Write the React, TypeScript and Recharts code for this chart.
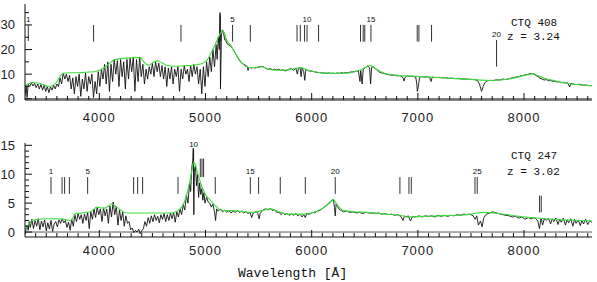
import React from "react";
import { LineChart, Line, XAxis, YAxis, ReferenceLine } from "recharts";

const SANS = "'Liberation Sans', Arial, sans-serif";
const MONO = "'Liberation Mono', 'DejaVu Sans Mono', monospace";

const waveDomain = [3300, 8640];
const waveTicks = [
  3400, 3500, 3600, 3700, 3800, 3900, 4000, 4100, 4200, 4300, 4400, 4500, 4600, 4700, 4800, 4900,
  5000, 5100, 5200, 5300, 5400, 5500, 5600, 5700, 5800, 5900, 6000, 6100, 6200, 6300, 6400, 6500,
  6600, 6700, 6800, 6900, 7000, 7100, 7200, 7300, 7400, 7500, 7600, 7700, 7800, 7900, 8000, 8100,
  8200, 8300, 8400, 8500, 8600,
];
const topFluxTicks = [0, 5, 10, 15, 20, 25, 30, 35];
const botFluxTicks = [0, 1, 2, 3, 4, 5, 6, 7, 8, 9, 10, 11, 12, 13, 14, 15];

// CTQ 408: observed spectrum [wavelength, flux]
const ctq408Spec: [number, number][] = [
  [3300, 1], [3310, 5.5], [3320, 0.5], [3330, 6], [3345, 5], [3360, 6.5], [3375, 5.2], [3390, 6.3],
  [3405, 4.5], [3420, 6], [3435, 4], [3450, 5.8], [3465, 3.5], [3480, 5.5], [3495, 3], [3510, 5],
  [3525, 2.5], [3540, 4.8], [3555, 3.5], [3570, 5.5], [3585, 4], [3600, 6], [3615, 5], [3630, 8.5],
  [3645, 6], [3660, 10.5], [3675, 8], [3690, 10], [3705, 7], [3720, 9.5], [3735, 4], [3750, 8.5],
  [3765, 2], [3780, 9], [3795, 5], [3810, 10], [3825, 1], [3840, 8], [3855, 4], [3870, 10.5],
  [3885, 3], [3900, 9], [3915, 6], [3930, 10], [3945, 0.5], [3960, 7], [3975, 2], [3990, 11],
  [4005, 5], [4020, 12], [4035, 8], [4050, 14], [4065, 6], [4080, 15], [4095, 3], [4110, 14],
  [4125, 7], [4140, 16], [4155, 10], [4170, 15.5], [4185, 5], [4200, 16], [4215, 9], [4230, 15],
  [4245, 4], [4260, 16], [4275, 8], [4290, 16.5], [4305, 11], [4320, 17], [4335, 3], [4350, 16],
  [4365, 7], [4380, 17], [4395, 9], [4410, 14], [4425, 6], [4440, 12], [4455, 8], [4470, 13],
  [4485, 10], [4500, 14.5], [4515, 9], [4530, 15], [4545, 11], [4560, 14.5], [4575, 9], [4590, 13.5],
  [4605, 8], [4620, 13], [4635, 5], [4650, 12.5], [4665, 8], [4680, 13], [4695, 6], [4710, 12],
  [4725, 9], [4740, 13], [4755, 3], [4770, 12], [4785, 8], [4800, 13.5], [4815, 10], [4830, 12],
  [4845, 7], [4860, 13.5], [4875, 9], [4890, 14], [4905, 10], [4920, 13], [4935, 6], [4950, 12],
  [4965, 2], [4980, 13], [4995, 5], [5010, 15], [5025, 9], [5040, 17], [5055, 11], [5070, 20],
  [5085, 13], [5100, 22], [5110, 16], [5120, 25], [5130, 20], [5137, 35], [5141, 4], [5150, 26],
  [5160, 28], [5170, 27], [5180, 24], [5190, 24], [5200, 22.5], [5215, 22], [5230, 21.5], [5245, 21],
  [5260, 20], [5280, 18.5], [5300, 17], [5320, 15.5], [5340, 14.5], [5360, 14], [5380, 13.5], [5395, 13],
  [5400, 11.5], [5410, 12.8], [5430, 12.5], [5450, 12.7], [5470, 12.5], [5490, 12.8], [5510, 13], [5530, 13.2],
  [5550, 12.8], [5570, 12.3], [5590, 12], [5610, 12.2], [5630, 11.8], [5650, 12], [5670, 11.7], [5690, 12],
  [5710, 11.5], [5730, 11.8], [5750, 11.3], [5770, 11.6], [5790, 12], [5810, 12.2], [5830, 11.5], [5850, 12.5],
  [5865, 10], [5875, 12.3], [5890, 12.8], [5900, 9], [5910, 12.5], [5925, 11], [5935, 7.5], [5945, 12],
  [5960, 11.5], [5980, 11.3], [6000, 11.2], [6020, 11], [6040, 10.8], [6060, 10.6], [6080, 10.7], [6100, 10.4],
  [6120, 10.5], [6140, 10.3], [6160, 10.5], [6180, 10.3], [6200, 10.4], [6220, 10.2], [6240, 10.5], [6260, 10.3],
  [6280, 10.6], [6300, 10.4], [6320, 10.7], [6340, 10.5], [6360, 10.8], [6380, 10.9], [6400, 11], [6420, 11.2],
  [6440, 11.3], [6455, 7], [6462, 11.5], [6475, 6], [6485, 11.8], [6500, 12.5], [6515, 13], [6530, 13.4],
  [6545, 12.5], [6555, 6], [6565, 13], [6580, 13], [6600, 12.2], [6620, 11.5], [6640, 10.8], [6660, 10.5],
  [6680, 10.3], [6700, 10], [6720, 9.8], [6740, 9.7], [6760, 9.5], [6780, 9.6], [6800, 9.3], [6820, 9.4],
  [6840, 9.2], [6860, 8.5], [6870, 7.2], [6880, 8.8], [6900, 9.3], [6920, 9.1], [6940, 9.2], [6960, 9],
  [6980, 8.8], [6990, 6], [6995, 3], [7005, 5], [7015, 8.5], [7030, 9], [7050, 8.9], [7070, 8.8],
  [7090, 9], [7110, 8.7], [7125, 7], [7135, 8.8], [7150, 8.7], [7170, 8.6], [7200, 8.7], [7230, 8.5],
  [7260, 8.6], [7290, 8.3], [7320, 8.4], [7350, 8.2], [7380, 8.3], [7410, 8], [7440, 8.1], [7470, 7.9],
  [7500, 7.9], [7530, 7.8], [7560, 7.5], [7580, 6], [7600, 3], [7615, 5], [7630, 6.5], [7650, 7.2],
  [7680, 7.5], [7710, 7.4], [7740, 7.7], [7770, 7.6], [7800, 8], [7830, 7.8], [7860, 8.2], [7890, 8.5],
  [7920, 8.8], [7950, 9], [7980, 9.4], [8010, 9.7], [8040, 10], [8070, 10.3], [8090, 10.1], [8110, 9.5],
  [8130, 9], [8150, 8.3], [8170, 8], [8190, 7.6], [8210, 7.8], [8230, 7.3], [8250, 7.4], [8270, 7],
  [8290, 7.2], [8310, 6.8], [8330, 7], [8350, 6.5], [8370, 6.7], [8390, 6.3], [8410, 6.5], [8430, 4.8],
  [8440, 6.2], [8460, 6], [8490, 5.8], [8520, 5.9], [8550, 5.5], [8580, 5.6], [8610, 5.3], [8640, 5.4],
];

// CTQ 408: fitted continuum + emission (green)
const ctq408Fit: [number, number][] = [
  [3300, 5], [3330, 6], [3370, 6.6], [3420, 6.4], [3470, 5.8], [3520, 5], [3560, 5.4], [3600, 6.8],
  [3630, 9.2], [3664, 10.4], [3720, 10.6], [3800, 10.6], [3880, 10.8], [3950, 11], [4000, 11.6], [4050, 12.8],
  [4100, 14.5], [4140, 15.8], [4200, 16.3], [4280, 16.6], [4340, 16.8], [4390, 16.6], [4420, 15], [4465, 13.6],
  [4510, 14.8], [4545, 15.4], [4590, 14.6], [4640, 13.5], [4700, 13.2], [4800, 13.4], [4880, 13.6], [4960, 14.2],
  [5010, 15.5], [5060, 19.2], [5100, 23], [5133, 26], [5155, 27.5], [5175, 27], [5200, 23.8], [5234, 21.9],
  [5280, 18.5], [5320, 15.8], [5359, 13.8], [5406, 12.7], [5460, 12.7], [5532, 13], [5580, 12.3], [5641, 11.7],
  [5700, 11.6], [5767, 11.7], [5830, 12.2], [5893, 12.7], [5950, 11.8], [6018, 11.1], [6080, 10.6], [6144, 10.4],
  [6250, 10.3], [6332, 10.4], [6400, 11], [6458, 11.7], [6510, 12.8], [6552, 13.5], [6600, 12.3], [6650, 11],
  [6709, 10.1], [6760, 9.7], [6834, 9.4], [6950, 9.2], [7050, 9], [7120, 8.8], [7250, 8.5], [7350, 8.2],
  [7434, 8], [7550, 7.7], [7685, 7.4], [7780, 7.6], [7873, 8.2], [7950, 8.9], [8020, 9.7], [8080, 10.1],
  [8140, 9.2], [8200, 8.2], [8250, 7.7], [8320, 7], [8376, 6.4], [8460, 5.9], [8550, 5.6], [8640, 5.3],
];

// CTQ 408: marked lines (wavelength, tag, flux extent)
const ctq408LineWl = [3331, 3946, 4769, 5139, 5255, 5422, 5862, 5893, 5933, 5956, 6065, 6460, 6485, 6500, 6558, 6994, 7010, 7129, 7741];
const ctq408LineTag = ["1", "", "", "", "5", "", "", "", "", "10", "", "", "", "", "15", "", "", "", "20"];
const ctq408LineSpan: [number, number][] = [
  [23.5, 30], [23.2, 30], [23.2, 30], [23.2, 34], [23.2, 30], [23.2, 30], [23.2, 30], [23.2, 30],
  [23.2, 30], [23.2, 30], [23.2, 30], [23.2, 30], [23.2, 30], [23.2, 30], [23.2, 30], [23.2, 30],
  [23.2, 30], [23.2, 30], [13.1, 23.9],
];

// CTQ 247: observed spectrum
const ctq247Spec: [number, number][] = [
  [3300, -0.5], [3310, 0.5], [3320, 1.2], [3330, 0.3], [3340, 1.8], [3350, 0.8], [3365, 2.2], [3380, 0.6],
  [3395, 2], [3410, 1], [3425, 2.3], [3440, 0.4], [3455, 1.9], [3470, 0.9], [3485, 2.1], [3500, 0.2],
  [3515, 1.6], [3530, 0.5], [3545, 2], [3560, 0.1], [3575, 1.4], [3590, 1.8], [3605, 0.9], [3620, 2.1],
  [3635, 1.5], [3650, 2.3], [3665, 1.6], [3680, 2], [3695, 0.8], [3710, 1.7], [3725, 0.3], [3740, 2.2],
  [3755, 1], [3770, 3], [3785, 1.8], [3800, 3.2], [3815, 2.2], [3830, 3], [3845, 1.5], [3860, 3.1],
  [3875, 2], [3890, 3.4], [3905, 0.6], [3920, 3.5], [3935, 2.2], [3950, 4], [3965, 2.5], [3980, 4.3],
  [3995, 3], [4010, 4], [4025, 1.8], [4040, 4.2], [4055, 2.8], [4070, 4], [4085, 1.5], [4100, 4.5],
  [4115, 2.6], [4130, 5.2], [4145, 3], [4160, 4.4], [4175, 1.2], [4190, 3.8], [4205, 2], [4220, 3.5],
  [4235, 1], [4250, 2.8], [4265, 1.5], [4280, 1.8], [4295, 0.4], [4310, 0.7], [4325, -0.1], [4340, 0.3],
  [4355, 0], [4370, 0.5], [4385, -0.3], [4400, 0.2], [4415, 0.6], [4430, 1.8], [4445, 1], [4460, 2.5],
  [4475, 1.5], [4490, 2.8], [4505, 1.8], [4520, 3], [4535, 2], [4550, 2.7], [4565, 1.6], [4580, 3],
  [4595, 2.2], [4610, 3.2], [4625, 1.8], [4640, 3], [4655, 2], [4670, 3.3], [4685, 2.3], [4700, 3.4],
  [4715, 1.7], [4730, 3.5], [4745, 2.6], [4760, 4], [4775, 3], [4790, 4.8], [4805, 3.8], [4820, 6.5],
  [4835, 5], [4850, 8.5], [4860, 7], [4870, 11], [4880, 12.3], [4885, 14.5], [4890, 3], [4895, 10.5],
  [4905, 11.5], [4915, 8], [4925, 10], [4935, 6], [4945, 8.5], [4955, 6.5], [4965, 7.5], [4975, 5.5],
  [4985, 6.8], [4995, 5], [5010, 6], [5025, 5.2], [5040, 5], [5055, 4.3], [5070, 4.8], [5085, 3.5],
  [5095, 2], [5105, 4], [5120, 3.6], [5140, 4], [5160, 3.5], [5180, 3.8], [5200, 3.4], [5220, 3.7],
  [5240, 3.3], [5260, 3.6], [5280, 3.4], [5300, 3.7], [5320, 3.4], [5340, 3.6], [5360, 3.3], [5380, 3.5],
  [5400, 3.2], [5420, 3.4], [5435, 2.5], [5450, 3.3], [5470, 3.5], [5490, 3.4], [5505, 2.3], [5515, 3.2],
  [5530, 3.6], [5550, 3.9], [5570, 4], [5590, 3.8], [5610, 4.1], [5630, 3.7], [5650, 3.9], [5670, 3.4],
  [5690, 3.5], [5710, 3], [5730, 3.3], [5750, 3], [5770, 3.2], [5790, 2.9], [5810, 3.1], [5830, 2.9],
  [5850, 3.2], [5870, 2.8], [5890, 3.1], [5910, 2.6], [5925, 3], [5940, 2.5], [5955, 3.3], [5970, 3],
  [5990, 3.2], [6010, 3.4], [6030, 3.3], [6050, 3.6], [6070, 3.7], [6090, 3.9], [6110, 4.2], [6130, 4.5],
  [6150, 4.8], [6170, 5.2], [6190, 5.5], [6205, 5.6], [6215, 4.2], [6222, 2.8], [6230, 4.8], [6245, 4.4],
  [6260, 3.9], [6280, 3.7], [6300, 3.5], [6330, 3.6], [6360, 3.4], [6390, 3.5], [6420, 3.3], [6450, 3.4],
  [6480, 3.2], [6510, 3.4], [6540, 3.3], [6570, 3.3], [6600, 3.2], [6630, 3.3], [6660, 3.1], [6690, 3.2],
  [6720, 3], [6750, 3.1], [6780, 2.9], [6810, 3], [6840, 2.7], [6860, 2], [6875, 2.8], [6890, 2.6],
  [6910, 2.8], [6930, 1.9], [6950, 2.7], [6980, 2.6], [7010, 2.8], [7040, 2.6], [7070, 2.8], [7100, 2.7],
  [7130, 2.8], [7160, 2.6], [7190, 2.9], [7220, 2.7], [7250, 2.9], [7280, 2.7], [7310, 2.9], [7340, 2.8],
  [7370, 3], [7400, 2.9], [7430, 3.1], [7460, 3], [7490, 3.1], [7520, 2.8], [7540, 2.2], [7555, 2.8],
  [7570, 1.2], [7590, 1.9], [7605, 0.9], [7620, 2.4], [7640, 3], [7660, 3.2], [7680, 3.3], [7700, 3.5],
  [7720, 3.4], [7740, 3.3], [7760, 3.2], [7780, 3.1], [7800, 3], [7830, 2.9], [7860, 2.8], [7890, 2.6],
  [7920, 2.7], [7950, 2.4], [7980, 2.6], [8010, 2.2], [8040, 2.5], [8070, 2.3], [8100, 2.5], [8130, 1.9],
  [8145, 0.6], [8160, 2.4], [8175, 1.2], [8190, 2.3], [8210, 2], [8230, 2.4], [8250, 1.4], [8265, 2.3],
  [8280, 1.8], [8300, 2.4], [8320, 1.3], [8335, 2.2], [8350, 1.7], [8370, 2.4], [8390, 1.2], [8405, 2.1],
  [8420, 1.6], [8440, 2.3], [8460, 1], [8475, 2.2], [8490, 1.5], [8510, 2.1], [8530, 1.1], [8545, 2],
  [8560, 1.4], [8580, 2.2], [8600, 1.3], [8620, 2], [8640, 1.6],
];

const ctq247Fit: [number, number][] = [
  [3300, 0.3], [3330, 1.2], [3366, 2], [3420, 2.2], [3500, 2.3], [3600, 2.3], [3664, 2.2], [3727, 2],
  [3750, 2.4], [3774, 3.2], [3840, 3.3], [3915, 3.5], [3978, 4.3], [4040, 4.1], [4080, 4.4], [4119, 4.9],
  [4150, 4.5], [4200, 3.8], [4260, 3.3], [4400, 3.3], [4550, 3.3], [4669, 3.3], [4731, 3.6], [4794, 4.9],
  [4841, 7.8], [4870, 10.5], [4888, 12.1], [4905, 11.6], [4920, 10.6], [4967, 7.8], [5000, 6.5], [5029, 5.8],
  [5070, 5], [5108, 4.3], [5139, 3.8], [5200, 3.7], [5265, 3.7], [5350, 3.5], [5453, 3.4], [5530, 3.7],
  [5610, 4], [5680, 3.6], [5767, 3.1], [5925, 3.1], [6050, 3.6], [6144, 4.6], [6190, 5.4], [6207, 5.6],
  [6230, 5], [6253, 4.4], [6300, 3.7], [6400, 3.5], [6520, 3.4], [6700, 3.1], [6834, 2.9], [6900, 2.6],
  [7050, 2.7], [7200, 2.8], [7371, 2.9], [7500, 3.1], [7622, 3.4], [7716, 3.3], [7850, 3], [7950, 2.7],
  [8061, 2.5], [8200, 2.3], [8376, 2.1], [8500, 2], [8640, 1.9],
];

const ctq247LineWl = [3545, 3649, 3673, 3718, 3890, 4323, 4361, 4408, 4741, 4888, 4951, 4967, 4982, 5092, 5422, 5500, 5704, 5940, 6222, 6831, 6916, 6938, 7538, 7559, 8146, 8162];
const ctq247LineTag = ["1", "", "", "", "5", "", "", "", "", "10", "", "", "", "", "15", "", "", "", "20", "", "", "", "", "25", "", ""];
const ctq247LineSpan: [number, number][] = [
  [6.6, 9.5], [6.6, 9.5], [6.6, 9.5], [6.6, 9.5], [6.6, 9.5], [6.6, 9.5], [6.6, 9.5], [6.6, 9.5],
  [6.6, 9.5], [7, 14.2], [9.5, 12.7], [9.5, 12.7], [9.5, 12.7], [6.6, 9.5], [6.6, 9.5], [6.6, 9.5],
  [6.6, 9.5], [6.6, 9.5], [6.6, 9.5], [6.6, 9.5], [6.6, 9.5], [6.6, 9.5], [6.6, 9.5], [6.6, 9.5],
  [3.4, 6.3], [3.4, 6.3],
];

const rows = (pts: [number, number][]) => pts.map(([wl, f]) => ({ wl, f }));

const INK = "#111";

const bottomTick = (gap: number) => (p: any) => {
  const v = p.payload.value;
  const major = v % 1000 === 0;
  return (
    <g>
      <line x1={p.x} x2={p.x} y1={p.y} y2={p.y - (major ? 7 : 4)} stroke={INK} strokeWidth={1} />
      {major && (
        <text x={p.x} y={p.y + gap} textAnchor="middle" fontSize={13} fontFamily={SANS} letterSpacing={1} fill="#222">
          {v}
        </text>
      )}
    </g>
  );
};

const topTick = (p: any) => {
  const major = p.payload.value % 1000 === 0;
  return <line x1={p.x} x2={p.x} y1={p.y} y2={p.y + (major ? 7 : 4)} stroke={INK} strokeWidth={1} />;
};

const leftTick = (step: number) => (p: any) => {
  const v = p.payload.value;
  const major = v % step === 0;
  return (
    <g>
      <line x1={p.x} x2={p.x + (major ? 7 : 4)} y1={p.y} y2={p.y} stroke={INK} strokeWidth={1} />
      {major && (
        <text x={15} y={p.y + 4.5} textAnchor="end" fontSize={13} fontFamily={SANS} fill="#222">
          {v}
        </text>
      )}
    </g>
  );
};

const rightTick = (step: number) => (p: any) => {
  const major = p.payload.value % step === 0;
  return <line x1={p.x} x2={p.x - (major ? 7 : 4)} y1={p.y} y2={p.y} stroke={INK} strokeWidth={1} />;
};

type PanelProps = {
  height: number;
  top: number;
  bottom: number;
  domain: [number, number];
  fluxTicks: number[];
  majorStep: number;
  labelGap: number;
  spec: [number, number][];
  fit: [number, number][];
  lineWl: number[];
  lineTag: string[];
  lineSpan: [number, number][];
};

const Panel = (props: PanelProps) => {
  const axisLine = { stroke: INK, strokeWidth: 1 };
  return (
    <LineChart width={597} height={props.height} margin={{ top: props.top, right: 5, bottom: 0, left: 0 }}>
      <XAxis
        xAxisId={0}
        type="number"
        dataKey="wl"
        domain={waveDomain}
        allowDataOverflow
        ticks={waveTicks}
        interval={0}
        tickSize={0}
        tickMargin={0}
        height={props.bottom}
        axisLine={axisLine}
        tickLine={false}
        tick={bottomTick(props.labelGap)}
      />
      <XAxis
        xAxisId="t"
        orientation="top"
        type="number"
        dataKey="wl"
        domain={waveDomain}
        allowDataOverflow
        ticks={waveTicks}
        interval={0}
        tickSize={0}
        tickMargin={0}
        height={0}
        axisLine={axisLine}
        tickLine={false}
        tick={topTick}
      />
      <YAxis
        yAxisId={0}
        type="number"
        domain={props.domain}
        allowDataOverflow
        ticks={props.fluxTicks}
        interval={0}
        tickSize={0}
        tickMargin={0}
        width={25}
        axisLine={axisLine}
        tickLine={false}
        tick={leftTick(props.majorStep)}
      />
      <YAxis
        yAxisId="r"
        orientation="right"
        type="number"
        domain={props.domain}
        allowDataOverflow
        ticks={props.fluxTicks}
        interval={0}
        tickSize={0}
        tickMargin={0}
        width={0}
        axisLine={axisLine}
        tickLine={false}
        tick={rightTick(props.majorStep)}
      />
      <ReferenceLine y={0} stroke="#555" strokeWidth={1} />
      {props.lineWl.map((wl, i) => (
        <ReferenceLine
          key={i}
          segment={[
            { x: wl, y: props.lineSpan[i][0] },
            { x: wl, y: props.lineSpan[i][1] },
          ]}
          stroke="#333"
          strokeWidth={1}
          ifOverflow="visible"
          label={
            props.lineTag[i]
              ? { value: props.lineTag[i], position: "top", offset: 3, fontSize: 8, fontFamily: SANS, fill: "#111" }
              : undefined
          }
        />
      ))}
      <Line
        data={rows(props.spec)}
        dataKey="f"
        type="linear"
        stroke="#111"
        strokeWidth={0.9}
        dot={false}
        isAnimationActive={false}
      />
      <Line
        data={rows(props.fit)}
        dataKey="f"
        type="monotone"
        stroke="#3ddc3d"
        strokeWidth={1.1}
        dot={false}
        isAnimationActive={false}
      />
    </LineChart>
  );
};

export default function App() {
  return (
    <div style={{ position: "absolute", left: 0, top: 0, width: 597, height: 282, background: "#fff" }}>
      <div style={{ position: "absolute", left: 0, top: 0 }}>
        <Panel
          height={130}
          top={4}
          bottom={30}
          domain={[-0.5, 38.5]}
          fluxTicks={topFluxTicks}
          majorStep={10}
          labelGap={22}
          spec={ctq408Spec}
          fit={ctq408Fit}
          lineWl={ctq408LineWl}
          lineTag={ctq408LineTag}
          lineSpan={ctq408LineSpan}
        />
      </div>
      <div style={{ position: "absolute", left: 0, top: 130 }}>
        <Panel
          height={152}
          top={13}
          bottom={45}
          domain={[-0.86, 15.4]}
          fluxTicks={botFluxTicks}
          majorStep={5}
          labelGap={18}
          spec={ctq247Spec}
          fit={ctq247Fit}
          lineWl={ctq247LineWl}
          lineTag={ctq247LineTag}
          lineSpan={ctq247LineSpan}
        />
      </div>
      <svg width={597} height={282} style={{ position: "absolute", left: 0, top: 0, pointerEvents: "none" }}>
        <g fontFamily={MONO} fontSize={11} fill="#111">
          <text x={511} y={26}>CTQ 408</text>
          <text x={507} y={40} style={{ whiteSpace: "pre" }}>z = 3.24</text>
          <text x={511} y={159}>CTQ 247</text>
          <text x={507} y={175} style={{ whiteSpace: "pre" }}>z = 3.02</text>
        </g>
        <text x={238} y={277} fontFamily={MONO} fontSize={13} fill="#111">
          Wavelength [Å]
        </text>
      </svg>
    </div>
  );
}
